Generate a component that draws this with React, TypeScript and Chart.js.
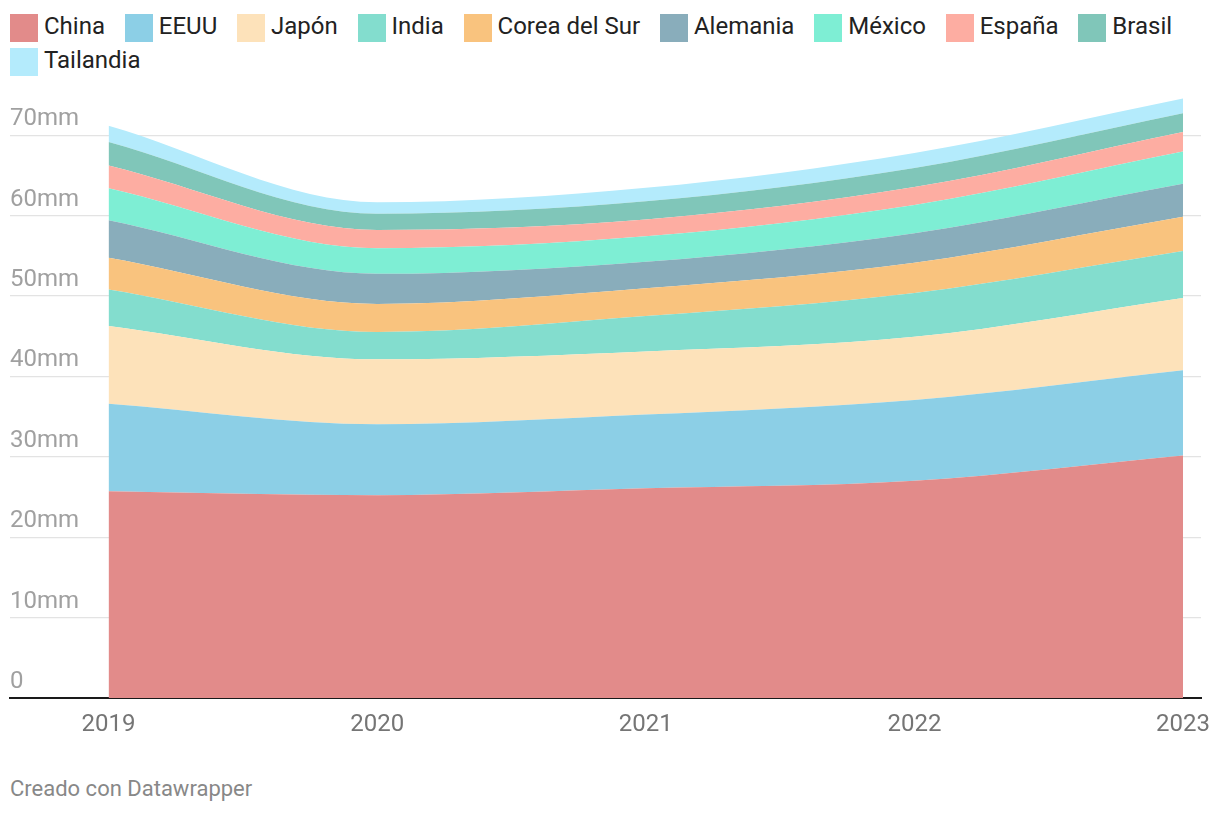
import React, { useEffect, useRef } from 'react';
import { Chart, registerables } from 'chart.js';

Chart.register(...registerables);

// ---- Data (millions of vehicles) ----
const years = [2019, 2020, 2021, 2022, 2023];
const china = [25.72, 25.23, 26.08, 27.02, 30.16];
const eeuu = [10.88, 8.82, 9.17, 10.06, 10.61];
const japon = [9.68, 8.07, 7.85, 7.84, 8.99];
const india = [4.52, 3.39, 4.4, 5.46, 5.85];
const corea = [3.95, 3.51, 3.46, 3.76, 4.24];
const alemania = [4.66, 3.74, 3.31, 3.68, 4.11];
const mexico = [3.99, 3.18, 3.15, 3.51, 4.0];
const espana = [2.82, 2.27, 2.1, 2.22, 2.45];
const brasil = [2.94, 2.01, 2.25, 2.37, 2.32];
const tailandia = [2.01, 1.43, 1.69, 1.88, 1.84];

const seriesNames = ['China', 'EEUU', 'Japón', 'India', 'Corea del Sur', 'Alemania', 'México', 'España', 'Brasil', 'Tailandia'];
const seriesValues = [china, eeuu, japon, india, corea, alemania, mexico, espana, brasil, tailandia];
const seriesColors = ['#e28b8a', '#8ccfe6', '#fde2ba', '#83ddce', '#f9c37e', '#89adbb', '#7eeed4', '#fdada2', '#80c6b9', '#b4ebfc'];
const yTickValues = [0, 10, 20, 30, 40, 50, 60, 70];
const footerText = 'Creado con Datawrapper';

const FONT = 'Roboto, "Noto Sans", sans-serif';

export default function App() {
  const ref = useRef<HTMLCanvasElement>(null);

  useEffect(() => {
    document.body.style.margin = '0';
    const canvas = ref.current;
    if (!canvas) return;
    const chart = new Chart(canvas, {
      type: 'line',
      data: {
        datasets: seriesValues.map((vals, i) => ({
          label: seriesNames[i],
          data: years.map((yr, j) => ({ x: yr, y: vals[j] })),
          backgroundColor: seriesColors[i],
          borderColor: seriesColors[i],
          borderWidth: 0,
          pointRadius: 0,
          fill: i === 0 ? 'origin' : '-1',
          cubicInterpolationMode: 'monotone' as const,
        })),
      },
      options: {
        responsive: false,
        animation: false,
        events: [],
        layout: { padding: { top: 11, left: 10, right: 19, bottom: 0 } },
        plugins: { legend: { display: false }, tooltip: { enabled: false } },
        scales: {
          x: {
            type: 'linear',
            min: 2018.633,
            max: 2023.067,
            z: 1,
            grid: { display: false, drawTicks: false },
            border: { display: true, color: '#1a1a1a', width: 2 },
            afterBuildTicks: (s: any) => {
              s.ticks = years.map((v) => ({ value: v }));
            },
            afterFit: (s: any) => {
              s.height = 62;
              s.paddingLeft = 0;
              s.paddingRight = 0;
            },
            ticks: {
              padding: 13,
              color: '#757575',
              autoSkip: false,
              maxRotation: 0,
              font: { family: FONT, size: 24 },
              callback: (v: any) => String(v),
            },
          },
          y: {
            stacked: true,
            min: 0,
            max: 75,
            z: 1,
            afterBuildTicks: (s: any) => {
              s.ticks = yTickValues.map((v) => ({ value: v }));
            },
            afterFit: (s: any) => {
              s.width = 0;
              s.paddingTop = 0;
              s.paddingBottom = 0;
            },
            grid: { color: 'rgba(0,0,0,0.11)', drawTicks: false, lineWidth: 1.3 },
            border: { display: false },
            ticks: {
              mirror: true,
              padding: 0,
              labelOffset: -16,
              color: '#a0a0a0',
              font: { family: FONT, size: 24 },
              callback: (v: any) => (v === 0 ? '0' : v + 'mm'),
            },
          },
        },
      },
    } as any);
    return () => chart.destroy();
  }, []);

  return (
    <div style={{ position: 'relative', width: 1220, height: 816, fontFamily: FONT, background: '#fff' }}>
      <div
        style={{
          position: 'absolute',
          left: 10,
          top: 14,
          width: 1200,
          display: 'flex',
          flexWrap: 'wrap',
          columnGap: 19.8,
          rowGap: 6,
        }}
      >
        {seriesNames.map((name, i) => (
          <div key={name} style={{ display: 'flex', alignItems: 'flex-start', height: 28 }}>
            <div style={{ width: 28, height: 28, background: seriesColors[i], marginRight: 6, flex: 'none' }} />
            <span
              style={{
                fontSize: 24,
                lineHeight: '28px',
                color: '#222',
                position: 'relative',
                top: -2,
                whiteSpace: 'nowrap',
              }}
            >
              {name}
            </span>
          </div>
        ))}
      </div>
      <div style={{ position: 'absolute', left: 0, top: 84, width: 1220, height: 676 }}>
        <canvas ref={ref} width={1220} height={676} style={{ width: 1220, height: 676, display: 'block' }} />
      </div>
      <div
        style={{
          position: 'absolute',
          left: 10,
          top: 778,
          fontSize: 22,
          lineHeight: '22px',
          color: '#888',
          whiteSpace: 'nowrap',
        }}
      >
        {footerText}
      </div>
    </div>
  );
}
